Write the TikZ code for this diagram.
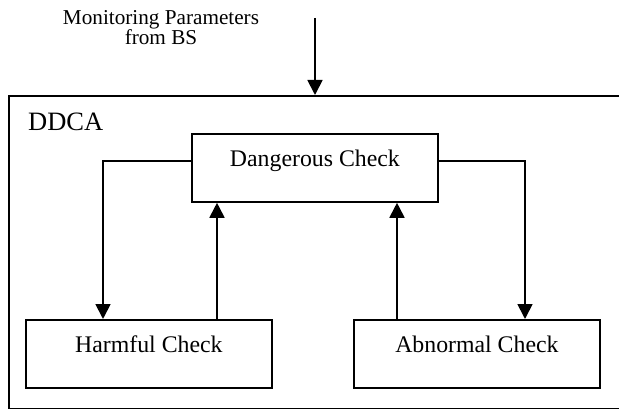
\documentclass[tikz,border=0pt]{standalone}
\usepackage{fontspec}
\setmainfont{Liberation Serif}
\usetikzlibrary{arrows.meta}
\begin{document}
\begin{tikzpicture}[x=1pt,y=-1pt,
  checkbox/.style={draw, line width=1.8pt, minimum width=246pt, inner xsep=0pt, inner ysep=0pt,
    text height=33pt, text depth=35pt, anchor=north west, font=\fontsize{23.8}{26}\selectfont},
  outerbox/.style={draw, line width=1.8pt, anchor=north west, inner sep=0pt},
  conn/.style={line width=1.8pt},
  arr/.style={conn, -{Triangle[width=15pt,length=15pt]}}
]
\useasboundingbox (0,0) rectangle (619,409);
\clip (0,0) rectangle (619,409);
% outer DDCA frame (right edge lies beyond the picture)
\node[outerbox, minimum width=620pt, minimum height=313pt] (ddca) at (8,95) {};
\node[anchor=base west, inner sep=0pt, font=\fontsize{26.5}{30}\selectfont] (ddcalabel) at (28,131) {DDCA};
% input text
\node[anchor=base, inner sep=0pt, align=center, font=\fontsize{21.2}{20}\selectfont] (mon) at (161,45) {Monitoring Parameters\\from BS};
% boxes
\node[checkbox] (dang) at (191,133) {Dangerous Check};
\node[checkbox] (harm) at (25,319) {Harmful Check};
\node[checkbox] (abn) at (353,319) {Abnormal Check};
% input arrow
\coordinate (src) at (315,18);
\draw[arr] (src) -- (src |- ddca.north);
% connectors
\draw[arr] ([yshift=-28pt]dang.north west) -| ([xshift=78pt]harm.north west);
\coordinate (hup) at ([xshift=192pt]harm.north west);
\draw[arr] (hup) -- (hup |- dang.south);
\coordinate (aup) at ([xshift=44pt]abn.north west);
\draw[arr] (aup) -- (aup |- dang.south);
\draw[arr] ([yshift=-28pt]dang.north east) -| ([xshift=172pt]abn.north west);
\end{tikzpicture}
\end{document}
